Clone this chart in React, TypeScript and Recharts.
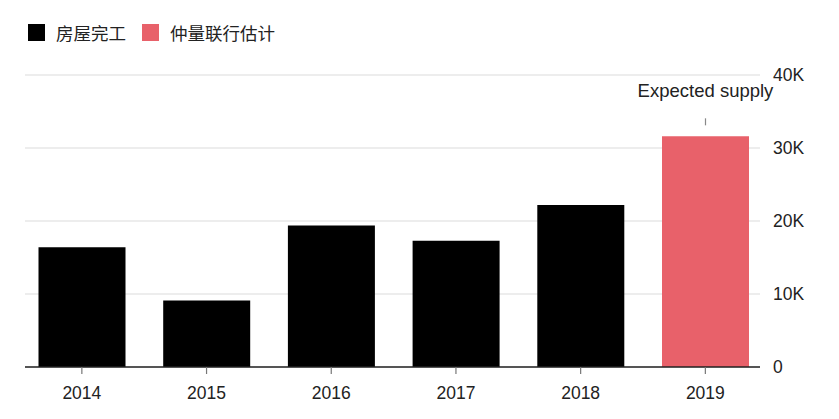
import React from "react";
import {
  Bar,
  BarChart,
  CartesianGrid,
  LabelList,
  XAxis,
  YAxis,
} from "recharts";

const years = ["2014", "2015", "2016", "2017", "2018", "2019"];
const completions = [16400, 9100, 19400, 17300, 22200, null];
const estimate = [null, null, null, null, null, 31600];
const notes = ["", "", "", "", "", "Expected supply"];
const yTicks = [0, 10000, 20000, 30000, 40000];

const series = [
  { key: "completions", label: "房屋完工", color: "#000000" },
  { key: "estimate", label: "仲量联行估计", color: "#E8616A" },
];

const data = years.map((year, i) => ({
  year,
  completions: completions[i],
  estimate: estimate[i],
  note: notes[i],
}));

const fontFamily = '"Liberation Sans", Arial, sans-serif';

function formatK(v: number) {
  return v === 0 ? "0" : `${v / 1000}K`;
}

function NoteLabel(props: any) {
  const { x, y, width, value } = props;
  if (!value) return null;
  const cx = Number(x) + Number(width) / 2;
  const top = Number(y);
  return (
    <g>
      <text
        x={cx}
        y={top - 39}
        textAnchor="middle"
        fontSize={18.5}
        fontFamily={fontFamily}
        fill="#222"
      >
        {value}
      </text>
      <line x1={cx} x2={cx} y1={top - 18} y2={top - 11} stroke="#888" strokeWidth={1.2} />
    </g>
  );
}

export default function App() {
  return (
    <div style={{ position: "absolute", left: 0, top: 0, width: 839, height: 419, background: "#fff" }}>
      <div
        style={{
          position: "absolute",
          left: 28,
          top: 24,
          display: "flex",
          alignItems: "center",
          fontFamily: '"Noto Sans CJK SC", sans-serif',
          fontSize: 17.5,
          color: "#222",
          lineHeight: "17px",
        }}
      >
        {series.map((s) => (
          <div key={s.key} style={{ display: "flex", alignItems: "center", marginRight: 16 }}>
            <span style={{ width: 17, height: 17, background: s.color, marginRight: 11 }} />
            <span>{s.label}</span>
          </div>
        ))}
      </div>
      <BarChart
        width={839}
        height={419}
        data={data}
        margin={{ top: 75, right: 9, bottom: 22, left: 25 }}
        barSize={87}
      >
        <CartesianGrid vertical={false} stroke="#dcdcdc" strokeWidth={1.2} />
        <XAxis
          dataKey="year"
          height={30}
          padding={{ left: -5.5, right: -7.7 }}
          axisLine={{ stroke: "#222", strokeWidth: 1.5 }}
          tickLine={{ stroke: "#777", strokeWidth: 1.2 }}
          tickSize={7}
          tickMargin={13}
          tick={{ fill: "#222", fontSize: 17.5, fontFamily }}
        />
        <YAxis
          orientation="right"
          width={70}
          domain={[0, 40000]}
          ticks={yTicks}
          tickFormatter={formatK}
          axisLine={false}
          tickLine={false}
          tickSize={6}
          tickMargin={7}
          tick={{ fill: "#222", fontSize: 17.5, fontFamily }}
        />
        {series.map((s) => (
          <Bar
            key={s.key}
            dataKey={s.key}
            stackId="a"
            fill={s.color}
            isAnimationActive={false}
          >
            {s.key === "estimate" ? <LabelList dataKey="note" content={NoteLabel} /> : null}
          </Bar>
        ))}
      </BarChart>
    </div>
  );
}
